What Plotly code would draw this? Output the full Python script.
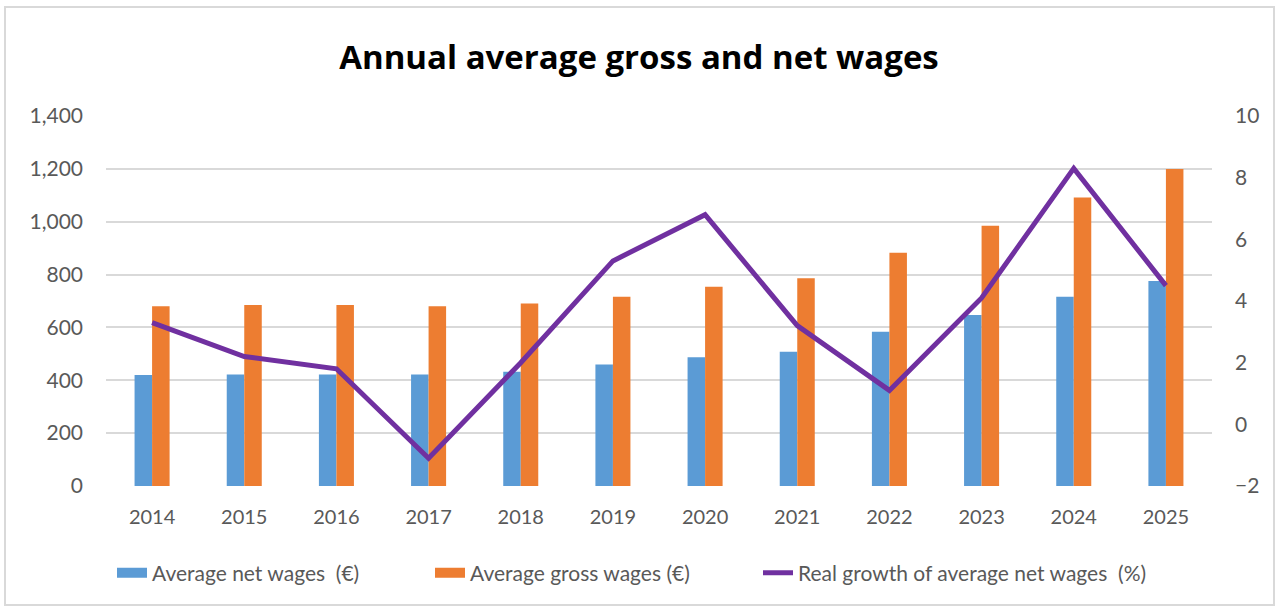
import plotly.graph_objects as go

years = ["2014", "2015", "2016", "2017", "2018", "2019", "2020", "2021", "2022", "2023", "2024", "2025"]
net_wages = [420, 422, 422, 422, 432, 460, 487, 508, 584, 647, 716, 776]
gross_wages = [680, 685, 685, 680, 691, 716, 754, 786, 883, 985, 1092, 1199]
real_growth = [3.3, 2.2, 1.8, -1.1, 2.0, 5.3, 6.8, 3.2, 1.1, 4.1, 8.3, 4.5]

names = ["Average net wages  (€)", "Average gross wages (€)", "Real growth of average net wages  (%)"]
colors = ["#5B9BD5", "#ED7D31", "#7030A0"]

FONT = "Lato, Open Sans, sans-serif"
GRAY = "#595959"
W, H = 1278, 609
L, R, T, B = 106, 66, 116, 123
PH = H - T - B
PW = W - L - R

fig = go.Figure()
fig.add_trace(go.Bar(x=years, y=net_wages, name=names[0], showlegend=False,
                     marker=dict(color=colors[0], line=dict(width=0))))
fig.add_trace(go.Bar(x=years, y=gross_wages, name=names[1], showlegend=False,
                     marker=dict(color=colors[1], line=dict(width=0))))
# legend swatches (wide rectangles like the original legend keys)
fig.add_trace(go.Scatter(x=[None], y=[None], mode="lines", name=names[0], legend="legend",
                         line=dict(color=colors[0], width=12)))
fig.add_trace(go.Scatter(x=[None], y=[None], mode="lines", name=names[1], legend="legend2",
                         line=dict(color=colors[1], width=12)))
fig.add_trace(go.Scatter(x=years, y=real_growth, name=names[2], legend="legend3",
                         mode="lines", line=dict(color=colors[2], width=5), yaxis="y2"))


def leg(px):
    return dict(orientation="h", x=(px - L) / PW, xanchor="left", y=(H - B - 573) / PH,
                yanchor="middle", font=dict(size=21, color=GRAY), bgcolor="rgba(0,0,0,0)")


fig.update_layout(
    width=W, height=H,
    paper_bgcolor="white", plot_bgcolor="white",
    margin=dict(l=L, r=R, t=T, b=B),
    barmode="group", bargap=0.62, bargroupgap=0,
    title=dict(text="<b>Annual average gross and net wages</b>", x=0.5, xanchor="center",
               y=1 - 57 / H, yanchor="middle",
               font=dict(family="Open Sans, sans-serif", size=33, color="black")),
    font=dict(family=FONT, size=17, color=GRAY),
    xaxis=dict(type="category", showgrid=False, showline=False, ticks="",
               tickfont=dict(size=20, color=GRAY), ticklabelstandoff=17),
    yaxis=dict(range=[0, 1400], dtick=200, tickformat=",", gridcolor="#D9D9D9", gridwidth=2,
               zeroline=False, showline=False, tickfont=dict(size=21, color=GRAY), ticklabelstandoff=22),
    yaxis2=dict(range=[-2, 10], dtick=2, overlaying="y", side="right", showgrid=False,
                zeroline=False, showline=False, tickfont=dict(size=21, color=GRAY), ticklabelstandoff=22),
    legend=leg(112),
    legend2=leg(430),
    legend3=leg(758),
    shapes=[dict(type="rect", xref="paper", yref="paper",
                 x0=(5 - L) / PW, x1=(1274 - L) / PW,
                 y0=(H - B - 605) / PH, y1=(H - B - 7) / PH,
                 line=dict(color="#D9D9D9", width=2), fillcolor="rgba(0,0,0,0)", layer="below")],
)

fig.write_html("out.html", config={"displayModeBar": False},
               post_script="document.body.style.margin='0';")
